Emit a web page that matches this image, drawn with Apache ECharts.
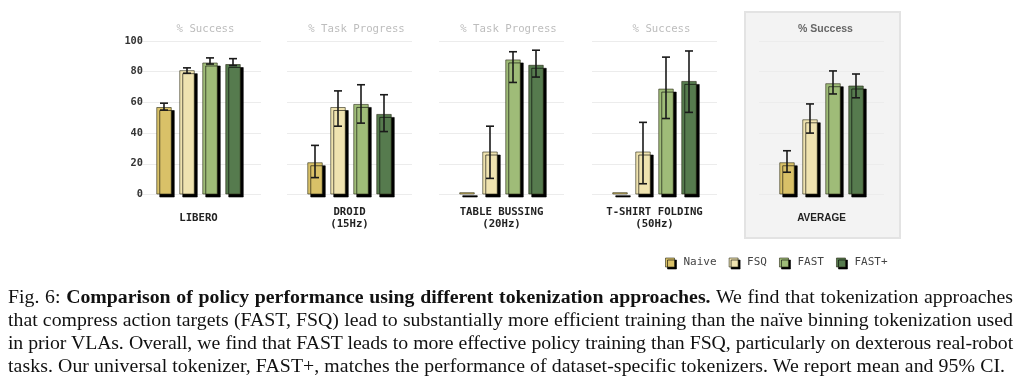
<!DOCTYPE html>
<html>
<head>
<meta charset="utf-8">
<script src="https://cdn.jsdelivr.net/npm/echarts@6/dist/echarts.min.js"></script>
<style>
  html, body { margin: 0; padding: 0; background: #fff; }
  #wrap { position: relative; width: 1024px; height: 387px; overflow: hidden; }
  #chart { position: absolute; left: 0; top: 0; width: 1024px; height: 387px; }
  #caption { position: absolute; left: 8px; top: 285px; width: 1005px;
    font-family: "Liberation Serif", "DejaVu Serif", serif; font-size: 19.8px; line-height: 23px; color: #111; }
  #caption .j { text-align: justify; text-align-last: justify; white-space: nowrap; }
  #caption .l { text-align: left; white-space: nowrap; letter-spacing: 0.08px; }
  #caption .tight { letter-spacing: -0.13px; }
</style>
</head>
<body>
<div id="wrap">
  <div id="chart"></div>
  <div id="caption">
    <div class="j">Fig. 6: <b>Comparison of policy performance using different tokenization approaches.</b> We find that tokenization approaches</div>
    <div class="j">that compress action targets (FAST, FSQ) lead to substantially more efficient training than the naïve binning tokenization used</div>
    <div class="j tight">in prior VLAs. Overall, we find that FAST leads to more effective policy training than FSQ, particularly on dexterous real-robot</div>
    <div class="l">tasks. Our universal tokenizer, FAST+, matches the performance of dataset-specific tokenizers. We report mean and 95% CI.</div>
  </div>
</div>
<script>
const categories = ['LIBERO', 'DROID\n(15Hz)', 'TABLE BUSSING\n(20Hz)', 'T-SHIRT FOLDING\n(50Hz)', 'AVERAGE'];
const panelTitles = ['% Success', '% Task Progress', '% Task Progress', '% Success', '% Success'];
const seriesNames = ['Naive', 'FSQ', 'FAST', 'FAST+'];
const yTicks = [0, 20, 40, 60, 80, 100];

const naive      = [57,   21,   1.5,  1.5,  21];
const fsq        = [81,   57,   28,   28,   49];
const fast       = [86,   59,   88,   69,   72.5];
const fastPlus   = [85,   52.5, 84.5, 74,   71];

const naiveLo    = [55,   11,   null, null, 14.5];
const naiveHi    = [59.5, 32,   null, null, 28.5];
const fsqLo      = [79,   44.5, 10.5, 7,    40];
const fsqHi      = [82.5, 67.5, 44.5, 47,   59];
const fastLo     = [85,   46.5, 73,   49.5, 65.5];
const fastHi     = [89,   71.5, 93,   89.5, 80.5];
const fastPlusLo = [84,   41,   76.5, 53.5, 63];
const fastPlusHi = [88.5, 65,   94,   93.5, 78.5];

const values = [naive, fsq, fast, fastPlus];
const lows = [naiveLo, fsqLo, fastLo, fastPlusLo];
const highs = [naiveHi, fsqHi, fastHi, fastPlusHi];
const colors = ['#d9c168', '#efe3b0', '#9fbc78', '#567b4e'];

const gridLefts = [136, 287, 439, 592, 759];
const gridWidth = 125;
const barWidth = 15.5;
const barGapPx = 7.5;
const mono = '"DejaVu Sans Mono", monospace';
const sans = '"Liberation Sans", Arial, sans-serif';

const chart = echarts.init(document.getElementById('chart'), null, { renderer: 'canvas' });

const grids = [], xAxes = [], yAxes = [], series = [], titles = [];
categories.forEach((cat, g) => {
  const isAvg = g === 4;
  grids.push({ left: gridLefts[g], width: gridWidth, top: 41, height: 153.5, containLabel: false });
  xAxes.push({
    type: 'category', gridIndex: g, data: [cat],
    axisLine: { show: false }, axisTick: { show: false },
    axisLabel: {
      interval: 0, margin: 23.5, verticalAlign: 'middle', lineHeight: 12.5,
      fontFamily: isAvg ? sans : mono, fontWeight: 'bold',
      fontSize: isAvg ? 10 : 10.7, color: '#222'
    }
  });
  yAxes.push({
    type: 'value', gridIndex: g, min: 0, max: 100, interval: 20,
    axisLine: { show: false }, axisTick: { show: false },
    splitLine: { lineStyle: { color: '#ececec', width: 1 } },
    axisLabel: g === 0 ? {
      show: true, margin: -7, fontFamily: mono, fontWeight: 'bold', fontSize: 10.3, color: '#333',
      formatter: v => yTicks.includes(v) ? String(v) : ''
    } : { show: false }
  });
  titles.push({
    text: panelTitles[g],
    left: gridLefts[g] + gridWidth / 2 + (isAvg ? -1 : 2), top: 19, textAlign: 'center',
    textStyle: isAvg
      ? { fontFamily: sans, fontWeight: 'bold', fontSize: 10.5, color: '#666' }
      : { fontFamily: mono, fontWeight: 'normal', fontSize: 10.7, color: '#bdbdbd' }
  });
  seriesNames.forEach((name, i) => {
    series.push({
      type: 'bar', name: name, xAxisIndex: g, yAxisIndex: g,
      data: [values[i][g]],
      barWidth: barWidth, barGap: (barGapPx / barWidth * 100) + '%',
      itemStyle: {
        color: colors[i], borderColor: 'rgba(40,40,20,0.6)', borderWidth: 1,
        shadowColor: '#000', shadowOffsetX: 3, shadowOffsetY: 3, shadowBlur: 0
      },
      emphasis: { disabled: true },
      z: 2
    });
  });
  const errData = [];
  seriesNames.forEach((name, i) => {
    if (lows[i][g] != null) errData.push([0, lows[i][g], highs[i][g], i]);
  });
  series.push({
    type: 'custom', xAxisIndex: g, yAxisIndex: g, z: 5,
    encode: { x: 0, y: [1, 2] },
    data: errData,
    renderItem: (params, api) => {
      const idx = api.value(3);
      const off = (idx - 1.5) * (barWidth + barGapPx);
      const lo = api.coord([0, api.value(1)]);
      const hi = api.coord([0, api.value(2)]);
      const x = lo[0] + off;
      const cap = 4;
      const st = { stroke: '#1a1a1a', lineWidth: 1.6 };
      return {
        type: 'group',
        children: [
          { type: 'line', shape: { x1: x, y1: lo[1], x2: x, y2: hi[1] }, style: st },
          { type: 'line', shape: { x1: x - cap, y1: lo[1], x2: x + cap, y2: lo[1] }, style: st },
          { type: 'line', shape: { x1: x - cap, y1: hi[1], x2: x + cap, y2: hi[1] }, style: st }
        ]
      };
    }
  });
});

chart.setOption({
  animation: false,
  backgroundColor: '#fff',
  title: titles,
  grid: grids,
  xAxis: xAxes,
  yAxis: yAxes,
  legend: {
    data: seriesNames,
    left: 660, top: 252,
    itemWidth: 9, itemHeight: 9, itemGap: 12,
    icon: 'rect',
    itemStyle: { borderColor: 'rgba(40,40,20,0.6)', borderWidth: 1, shadowColor: '#000', shadowOffsetX: 2, shadowOffsetY: 2, shadowBlur: 0 },
    textStyle: { fontFamily: mono, fontSize: 11, color: '#444', padding: [0, 0, 0, 4] },
    selectedMode: false
  },
  graphic: [{
    type: 'rect', z: -10,
    shape: { x: 745, y: 12, width: 155, height: 226 },
    style: { fill: '#f3f3f3', stroke: '#e3e3e3', lineWidth: 2 },
    silent: true
  }],
  series: series
});
</script>
</body>
</html>
